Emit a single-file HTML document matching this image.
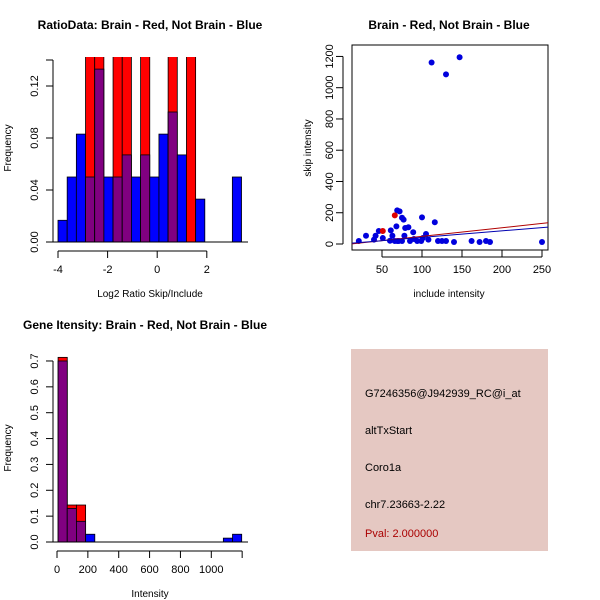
<!DOCTYPE html>
<html><head><meta charset="utf-8"><style>
body{margin:0;background:#fff}
svg{display:block;font-family:"Liberation Sans",sans-serif}
</style></head><body>
<svg id="c" width="600" height="600" viewBox="0 0 600 600">
<rect width="600" height="600" fill="#fff"/>
</svg>
<script>
// Ratio histogram data
const ratioBins = [0,1,2,3,4,5,6,7,8,9,10,11,12,13,14,15,16,17,18,19];
const ratioBlue = [0.0167,0.05,0.083,0.05,0.133,0.05,0.05,0.067,0.05,0.067,0.05,0.083,0.1,0.067,0,0.033,0,0,0,0.05];
const ratioRed  = [0,0,0,0.143,0.143,0,0.143,0.143,0,0.143,0,0,0.143,0,0.143,0,0,0,0,0];
const ratioXTicks = [-4,-2,0,2];
const ratioYTicks = [0,0.04,0.08,0.12];
// Scatter data
const incl = [21,30,40,42,46,51,60,61,63,68,69,72,71,75,77,75,79,78,83,85,89,90,94,100,99,101,105,108,112,116,120,125,130,130,140,147,162,172,180,185,250,69,66];
const skip = [19,53,28,53,83,38,21,87,53,113,215,209,19,168,156,19,102,53,107,19,75,32,19,170,19,38,64,28,1161,139,19,19,1085,19,13,1195,19,13,19,13,13,19,19];
const redIncl = [51,66];
const redSkip = [83,183];
const fitRed = [-6,0.55];
const fitBlue = [0,0.42];
const scXTicks = [50,100,150,200,250];
const scYTicks = [0,200,400,600,800,1000,1200];
// Intensity histogram data
const intBins = [0,1,2,3,4,5,6,7,8,9,10,11,12,13,14,15,16,17,18,19];
const intBlue = [0.70,0.13,0.08,0.03,0,0,0,0,0,0,0,0,0,0,0,0,0,0,0.015,0.03];
const intRed  = [0.714,0.143,0.143,0,0,0,0,0,0,0,0,0,0,0,0,0,0,0,0,0];
const intXTicks = [0,200,400,600,800,1000];
const intYTicks = [0,0.1,0.2,0.3,0.4,0.5,0.6,0.7];

const svg=document.getElementById('c');
const NS='http://www.w3.org/2000/svg';
function mk(tag,at,parent){const e=document.createElementNS(NS,tag);for(const k in at)e.setAttribute(k,at[k]);(parent||svg).appendChild(e);return e;}
function txt(s,x,y,o,name){const e=mk('text',Object.assign({x:x,y:y,'font-size':11,fill:'#000'},o||{}));e.textContent=s;


return e;}

// ---- Panel 1: ratio histogram
(function(){
const g=mk('g',{});


const X=v=>58+(v+4)*24.8, Y=v=>242-v*1300;
const bw=0.37, x0=-4;
const clip=mk('clipPath',{id:'cp1'},g);mk('rect',{x:0,y:57,width:300,height:200},clip);
const bars=mk('g',{'clip-path':'url(#cp1)'},g);
ratioBins.forEach((b,i)=>{
 const l=X(x0+b*bw), r=X(x0+(b+1)*bw), w=r-l;
 const bv=ratioBlue[i], rv=ratioRed[i], m=Math.min(bv,rv);
 if(rv>0){const e=mk('rect',{x:l,y:Y(rv),width:w,height:Y(0)-Y(rv),fill:'#ff0000',stroke:'#000','stroke-width':0.8},bars);
 
 }
 if(bv>0){const e=mk('rect',{x:l,y:Y(bv),width:w,height:Y(0)-Y(bv),fill:rv>0?'#800080':'#0000ff',stroke:'#000','stroke-width':0.8},bars);
 
 }
 if(m>0&&bv>rv){mk('rect',{x:l,y:Y(m),width:w,height:Y(0)-Y(m),fill:'#800080',stroke:'#000','stroke-width':0.8},bars);}
});
mk('line',{x1:53,x2:248,y1:242,y2:242,stroke:'#000'},g);
mk('line',{x1:53,x2:53,y1:Y(0),y2:Y(0.14),stroke:'#000'},g);
ratioYTicks.concat([0.14]).forEach(t=>{mk('line',{x1:46,x2:53,y1:Y(t),y2:Y(t),stroke:'#000'},g);});
ratioYTicks.forEach(t=>{txt(t.toFixed(2),0,0,{transform:`translate(38,${Y(t)}) rotate(-90)`,'text-anchor':'middle'},'y-tick-label');});
mk('line',{x1:X(-4),x2:X(2),y1:251,y2:251,stroke:'#000'},g);
ratioXTicks.forEach(t=>{mk('line',{x1:X(t),x2:X(t),y1:251,y2:258,stroke:'#000'},g);txt(String(t).replace('-','-'),X(t),273,{'text-anchor':'middle'},'x-tick-label');});
txt('RatioData: Brain - Red, Not Brain - Blue',150,29,{'text-anchor':'middle','font-weight':'bold','font-size':12},'chart-title');
txt('Frequency',0,0,{transform:'translate(11,148) rotate(-90)','text-anchor':'middle','font-size':10},'y-axis-title');
txt('Log2 Ratio Skip/Include',150,297,{'text-anchor':'middle','font-size':10},'x-axis-title');
})();

// ---- Panel 2: scatter
(function(){
const g=mk('g',{});


const X=v=>382+(v-50)*0.8, Y=v=>244-v*0.1563;
mk('rect',{x:352,y:45,width:196,height:205,fill:'none',stroke:'#000'},g);
const clip=mk('clipPath',{id:'cp2'},g);mk('rect',{x:352,y:45,width:196,height:205},clip);
const pl=mk('g',{'clip-path':'url(#cp2)'},g);
incl.forEach((v,i)=>{const e=mk('circle',{cx:X(v),cy:Y(skip[i]),r:3,fill:'#0000dd'},pl);

});
redIncl.forEach((v,i)=>{const e=mk('circle',{cx:X(v),cy:Y(redSkip[i]),r:3,fill:'#dd0000'},pl);

});
[[fitRed,'#b00000','red-fit-line'],[fitBlue,'#0000b0','blue-fit-line']].forEach(([f,c,n])=>{
 const e=mk('line',{x1:X(10),x2:X(270),y1:Y(f[0]+f[1]*10),y2:Y(f[0]+f[1]*270),stroke:c,'stroke-width':1},pl);
 
 });
mk('line',{x1:343,x2:343,y1:Y(0),y2:Y(1200),stroke:'#000'},g);
scYTicks.forEach(t=>{mk('line',{x1:336,x2:343,y1:Y(t),y2:Y(t),stroke:'#000'},g);txt(String(t),0,0,{transform:`translate(333,${Y(t)}) rotate(-90)`,'text-anchor':'middle'},'y-tick-label');});
mk('line',{x1:X(50),x2:X(250),y1:257,y2:257,stroke:'#000'},g);
scXTicks.forEach(t=>{mk('line',{x1:X(t),x2:X(t),y1:250,y2:257,stroke:'#000'},g);txt(String(t),X(t),273,{'text-anchor':'middle'},'x-tick-label');});
txt('Brain - Red, Not Brain - Blue',449,29,{'text-anchor':'middle','font-weight':'bold','font-size':12},'chart-title');
txt('skip intensity',0,0,{transform:'translate(311,148) rotate(-90)','text-anchor':'middle','font-size':10},'y-axis-title');
txt('include intensity',449,297,{'text-anchor':'middle','font-size':10},'x-axis-title');
})();

// ---- Panel 3: intensity histogram
(function(){
const g=mk('g',{});


const X=v=>57+v*0.1543, Y=v=>542-v*258.6;
const bw=59.5, x0=7;
intBins.forEach((b,i)=>{
 const l=X(x0+b*bw), r=X(x0+(b+1)*bw), w=r-l;
 const bv=intBlue[i], rv=intRed[i], m=Math.min(bv,rv);
 const top=Math.max(bv,rv);
 if(top<=0)return;
 const e=mk('rect',{x:l,y:Y(top),width:w,height:Y(0)-Y(top),fill:rv>=bv?'#ff0000':'#0000ff',stroke:'#000','stroke-width':0.8},g);
 
 
 if(m>0){const p=mk('rect',{x:l,y:Y(m),width:w,height:Y(0)-Y(m),fill:'#800080',stroke:'#000','stroke-width':0.8},g);
 
 }
});
mk('line',{x1:53,x2:248,y1:542,y2:542,stroke:'#000'},g);
mk('line',{x1:53,x2:53,y1:Y(0),y2:Y(0.7),stroke:'#000'},g);
intYTicks.forEach(t=>{mk('line',{x1:46,x2:53,y1:Y(t),y2:Y(t),stroke:'#000'},g);txt(t.toFixed(1),0,0,{transform:`translate(38,${Y(t)}) rotate(-90)`,'text-anchor':'middle'},'y-tick-label');});
mk('line',{x1:X(0),x2:X(1200),y1:551,y2:551,stroke:'#000'},g);
intXTicks.concat([1200]).forEach(t=>{mk('line',{x1:X(t),x2:X(t),y1:551,y2:558,stroke:'#000'},g);});
intXTicks.forEach(t=>{txt(String(t),X(t),573,{'text-anchor':'middle'},'x-tick-label');});
txt('Gene Itensity: Brain - Red, Not Brain - Blue',145,329,{'text-anchor':'middle','font-weight':'bold','font-size':12},'chart-title');
txt('Frequency',0,0,{transform:'translate(11,448) rotate(-90)','text-anchor':'middle','font-size':10},'y-axis-title');
txt('Intensity',150,597,{'text-anchor':'middle','font-size':10},'x-axis-title');
})();

// ---- Panel 4: info box
(function(){
const g=mk('g',{});


mk('rect',{x:351,y:349,width:197,height:202,fill:'#e5c8c2'},g);
txt('G7246356@J942939_RC@i_at',365,397,{'font-size':11},'probe-id');
txt('altTxStart',365,434,{'font-size':11},'event-type');
txt('Coro1a',365,471,{'font-size':11},'gene-name');
txt('chr7.23663-2.22',365,508,{'font-size':11},'location');
txt('Pval: 2.000000',365,537,{'font-size':11,fill:'#aa0000'},'p-value');
})();
</script>
</body></html>
